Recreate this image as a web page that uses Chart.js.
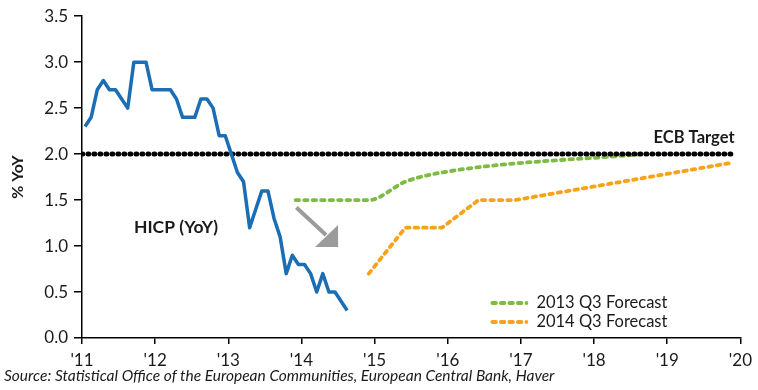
<!DOCTYPE html>
<html>
<head>
<meta charset="utf-8">
<script src="https://cdn.jsdelivr.net/npm/chart.js@4"></script>
<style>
  body { margin: 0; background: #fff; }
  #wrap { position: relative; width: 758px; height: 390px; }
  #source {
    position: absolute; left: 4px; top: 366px;
    font: italic 15.5px Lato, sans-serif; color: #1a1a1a; white-space: nowrap;
  }
</style>
</head>
<body>
<div id="wrap">
  <canvas id="chart" width="758" height="390"></canvas>
  <div id="source">Source: Statistical Office of the European Communities, European Central Bank, Haver</div>
</div>
<script>
// HICP year-on-year, monthly from Jan 2011 to Aug 2014
var hicpStart = 2011;
var hicpValues = [
  2.3, 2.4, 2.7, 2.8, 2.7, 2.7, 2.6, 2.5, 3.0, 3.0, 3.0, 2.7,
  2.7, 2.7, 2.7, 2.6, 2.4, 2.4, 2.4, 2.6, 2.6, 2.5, 2.2, 2.2,
  2.0, 1.8, 1.7, 1.2, 1.4, 1.6, 1.6, 1.3, 1.1, 0.7, 0.9, 0.8,
  0.8, 0.7, 0.5, 0.7, 0.5, 0.5, 0.4, 0.3
];

// forecasts (x in years)
var f13Years = [2013.92, 2014.92, 2015.42, 2015.92, 2018.65];
var f13Values = [1.5, 1.5, 1.7, 1.8, 2.0];
var f14Years = [2014.92, 2015.42, 2015.92, 2016.42, 2016.92, 2019.84];
var f14Values = [0.7, 1.2, 1.2, 1.5, 1.5, 1.9];

// ECB target
var ecbYears = [2011, 2019.9];
var ecbValues = [2.0, 2.0];

var yTicks = [0, 0.5, 1, 1.5, 2, 2.5, 3, 3.5];

function pts(xs, ys) {
  return xs.map(function (x, i) { return { x: x, y: ys[i] }; });
}
var hicpPoints = hicpValues.map(function (v, i) {
  return { x: hicpStart + (i + 0.5) / 12, y: v };
});

var textColor = "#1a1a1a";

// arrow, text labels and in-plot legend
var extras = {
  id: "extras",
  afterDatasetsDraw: function (chart) {
    var ctx = chart.ctx;
    var xs = chart.scales.x, ys = chart.scales.y;
    var area = chart.chartArea;
    ctx.save();

    // grey arrow
    var x0 = xs.getPixelForValue(2013.93), y0 = ys.getPixelForValue(1.42);
    var x1 = xs.getPixelForValue(2014.5), y1 = ys.getPixelForValue(0.99);
    ctx.strokeStyle = "#9b9b9b";
    ctx.fillStyle = "#9b9b9b";
    ctx.lineWidth = 4;
    ctx.beginPath();
    ctx.moveTo(x0, y0);
    ctx.lineTo(x1 - 12, y1 - 12);
    ctx.stroke();
    ctx.beginPath();
    ctx.moveTo(x1 - 23, y1);
    ctx.lineTo(x1, y1 - 22);
    ctx.lineTo(x1, y1);
    ctx.closePath();
    ctx.fill();

    // labels
    ctx.fillStyle = textColor;
    ctx.textBaseline = "middle";
    ctx.textAlign = "right";
    ctx.font = "bold 16.5px Lato, sans-serif";
    ctx.fillText("ECB Target", xs.getPixelForValue(2019.92), ys.getPixelForValue(2.0) - 16);
    ctx.textAlign = "left";
    ctx.font = "bold 17.5px Lato, sans-serif";
    ctx.fillText("HICP (YoY)", xs.getPixelForValue(2011.71), ys.getPixelForValue(1.2));

    // legend
    ctx.font = "16.5px Lato, sans-serif";
    var lx = area.right - 250, ly = area.bottom - 35;
    chart.data.datasets.forEach(function (ds) {
      if (!ds.inLegend) return;
      ctx.strokeStyle = ds.borderColor;
      ctx.lineWidth = ds.borderWidth;
      ctx.lineCap = "round";
      ctx.setLineDash(ds.borderDash);
      ctx.beginPath();
      ctx.moveTo(lx + 2, ly);
      ctx.lineTo(lx + 36, ly);
      ctx.stroke();
      ctx.setLineDash([]);
      ctx.fillText(ds.label, lx + 46, ly);
      ly += 19;
    });
    ctx.restore();
  }
};

new Chart(document.getElementById("chart"), {
  type: "line",
  data: {
    datasets: [
      {
        label: "HICP (YoY)",
        data: hicpPoints,
        borderColor: "#1b6db4",
        borderWidth: 3.5,
        borderJoinStyle: "round",
        pointRadius: 0,
      },
      {
        label: "ECB Target",
        data: pts(ecbYears, ecbValues),
        borderColor: "#000",
        borderWidth: 5,
        borderDash: [0.8, 5.2],
        borderCapStyle: "round",
        pointRadius: 0,
      },
      {
        label: "2013 Q3 Forecast",
        data: pts(f13Years, f13Values),
        borderColor: "#7dbb42",
        borderWidth: 3.8,
        borderDash: [3.5, 5],
        borderCapStyle: "round",
        cubicInterpolationMode: "monotone",
        pointRadius: 0,
        inLegend: true,
      },
      {
        label: "2014 Q3 Forecast",
        data: pts(f14Years, f14Values),
        borderColor: "#f7a21b",
        borderWidth: 3.8,
        borderDash: [3.5, 5],
        borderCapStyle: "round",
        pointRadius: 0,
        inLegend: true,
      },
    ],
  },
  options: {
    responsive: false,
    animation: false,
    layout: { padding: { top: 15, right: 11, left: 0, bottom: 0 } },
    plugins: { legend: { display: false }, tooltip: { enabled: false } },
    scales: {
      x: {
        type: "linear",
        min: 2011,
        max: 2020,
        afterFit: function (s) { s.height = 52; },
        ticks: {
          stepSize: 1,
          color: textColor,
          font: { family: "Lato", size: 17 },
          padding: 6,
          maxRotation: 0,
          callback: function (v) { return "'" + String(v).slice(2); },
        },
        grid: { drawOnChartArea: false, drawTicks: true, tickLength: 6, color: "#000", lineWidth: 1.5 },
        border: { color: "#000", width: 1.5 },
      },
      y: {
        min: 0,
        max: 3.5,
        afterFit: function (s) { s.width = 82; },
        afterBuildTicks: function (s) { s.ticks = yTicks.map(function (v) { return { value: v }; }); },
        ticks: {
          color: textColor,
          font: { family: "Lato", size: 17 },
          padding: 6,
          callback: function (v) { return v.toFixed(1); },
        },
        title: {
          display: true,
          text: "% YoY",
          color: textColor,
          font: { family: "Lato", size: 16, weight: "bold" },
          padding: { top: 8, bottom: 0 },
        },
        grid: { drawOnChartArea: false, drawTicks: true, tickLength: 8, color: "#000", lineWidth: 1.5 },
        border: { color: "#000", width: 1.5 },
      },
    },
  },
  plugins: [extras],
});
</script>
</body>
</html>
